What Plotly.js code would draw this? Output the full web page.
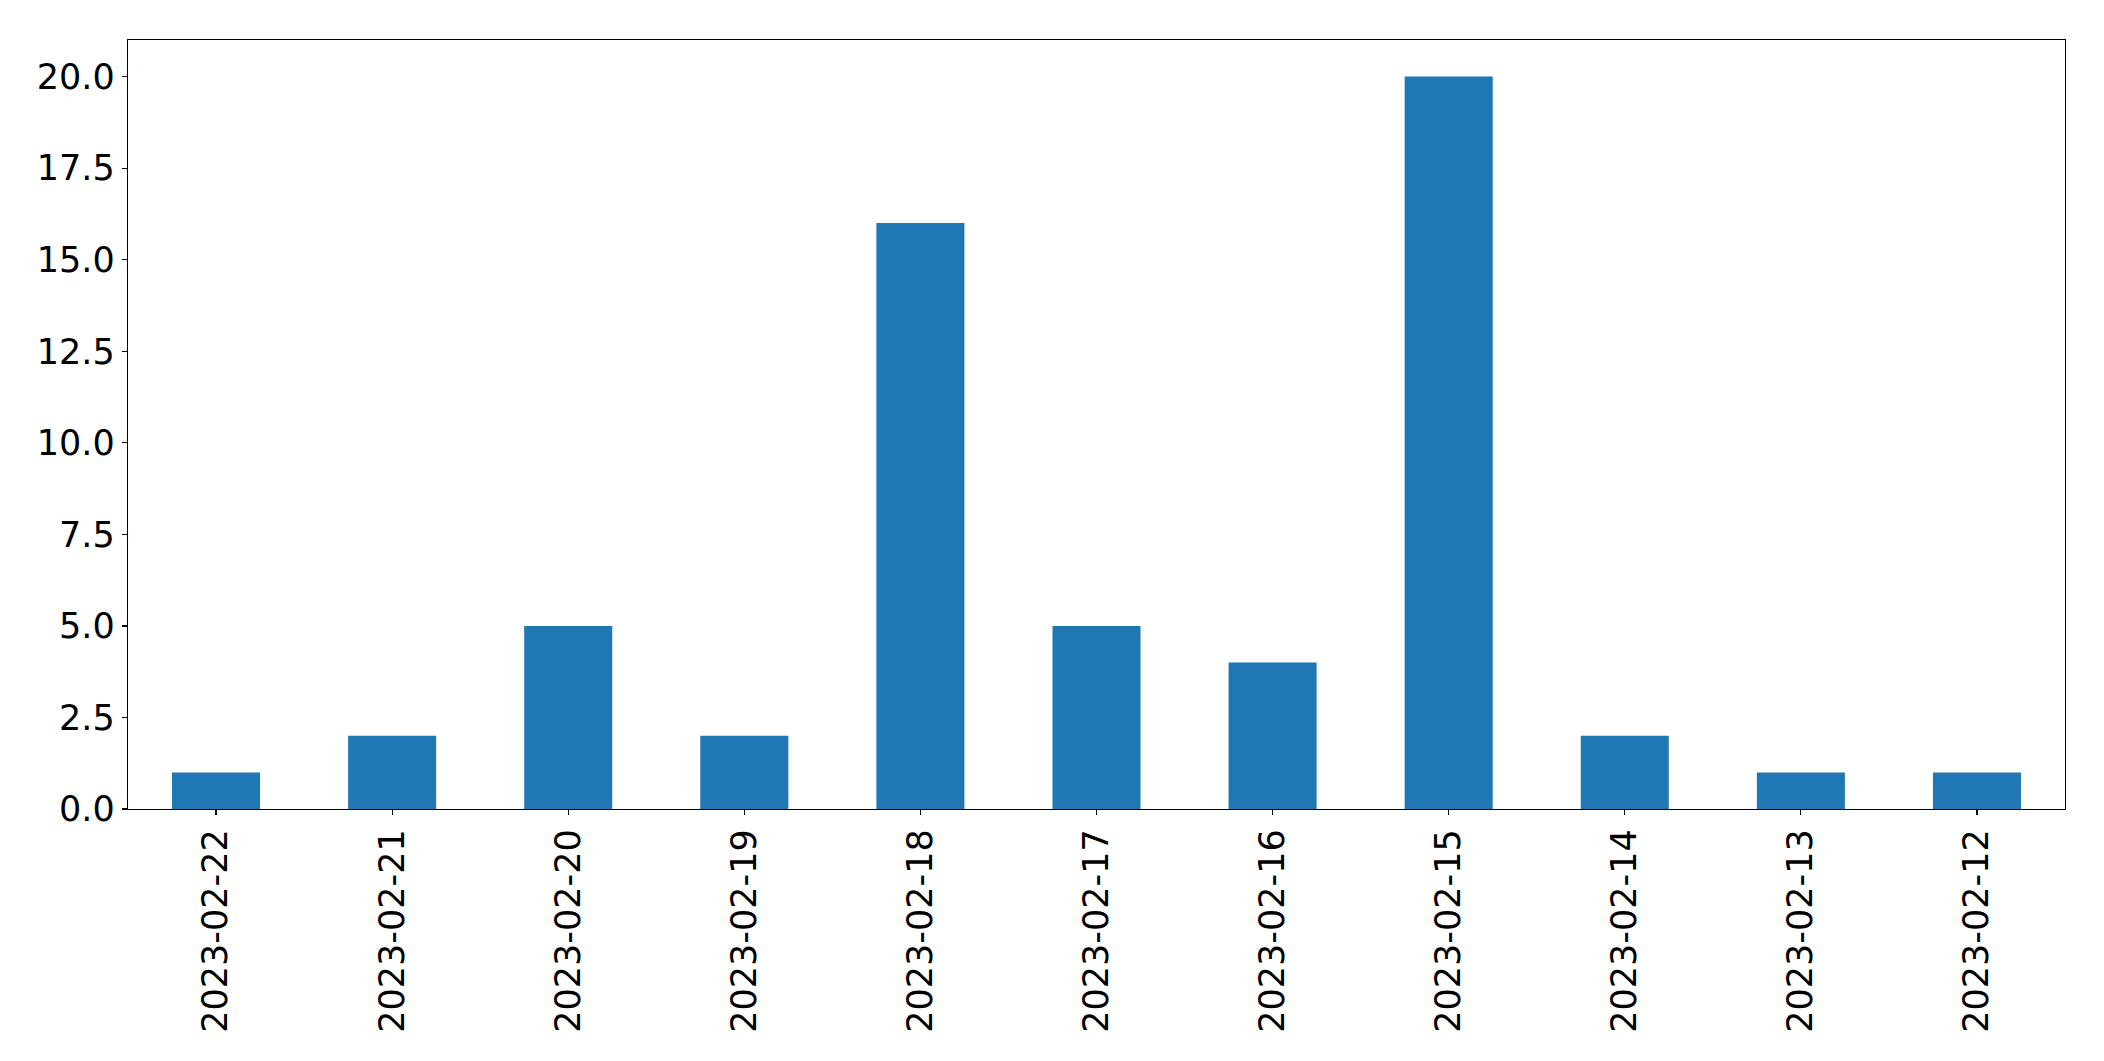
<!DOCTYPE html>
<html>
<head>
<meta charset="utf-8">
<script src="https://cdn.plot.ly/plotly-3.0.1.min.js"></script>
<style>html,body{margin:0;padding:0;background:#fff;}#chart{width:2104px;height:1061px;}</style>
</head>
<body>
<div id="chart"></div>
<script>
const dates = ["2023-02-22","2023-02-21","2023-02-20","2023-02-19","2023-02-18","2023-02-17","2023-02-16","2023-02-15","2023-02-14","2023-02-13","2023-02-12"];
const counts = [1, 2, 5, 2, 16, 5, 4, 20, 2, 1, 1];
const yTicks = [0, 2.5, 5, 7.5, 10, 12.5, 15, 17.5, 20];

const trace = {
  type: "bar",
  x: dates,
  y: counts,
  marker: {color: "#1f77b4", line: {width: 0}},
  hoverinfo: "x+y"
};

const axisFont = {family: "DejaVu Sans", size: 35, color: "#000"};

const layout = {
  width: 2104,
  height: 1061,
  margin: {l: 127.5, r: 39, t: 39.5, b: 252, pad: 0},
  paper_bgcolor: "#fff",
  plot_bgcolor: "#fff",
  showlegend: false,
  bargap: 0.5,
  xaxis: {
    type: "category",
    range: [-0.5, 10.5],
    tickangle: -90,
    ticks: "outside",
    ticklen: 5,
    tickwidth: 1.2,
    tickcolor: "#000",
    tickfont: axisFont,
    showline: true,
    linecolor: "#000",
    linewidth: 1.3,
    mirror: true,
    showgrid: false,
    zeroline: false,
    fixedrange: true
  },
  yaxis: {
    range: [0, 21],
    tickvals: yTicks,
    ticktext: yTicks.map(v => v.toFixed(1)),
    ticks: "outside",
    ticklen: 5,
    tickwidth: 1.2,
    tickcolor: "#000",
    tickfont: axisFont,
    showline: true,
    linecolor: "#000",
    linewidth: 1.3,
    mirror: true,
    showgrid: false,
    zeroline: false,
    fixedrange: true
  }
};

Plotly.newPlot("chart", [trace], layout, {displayModeBar: false, staticPlot: true});
</script>
</body>
</html>
